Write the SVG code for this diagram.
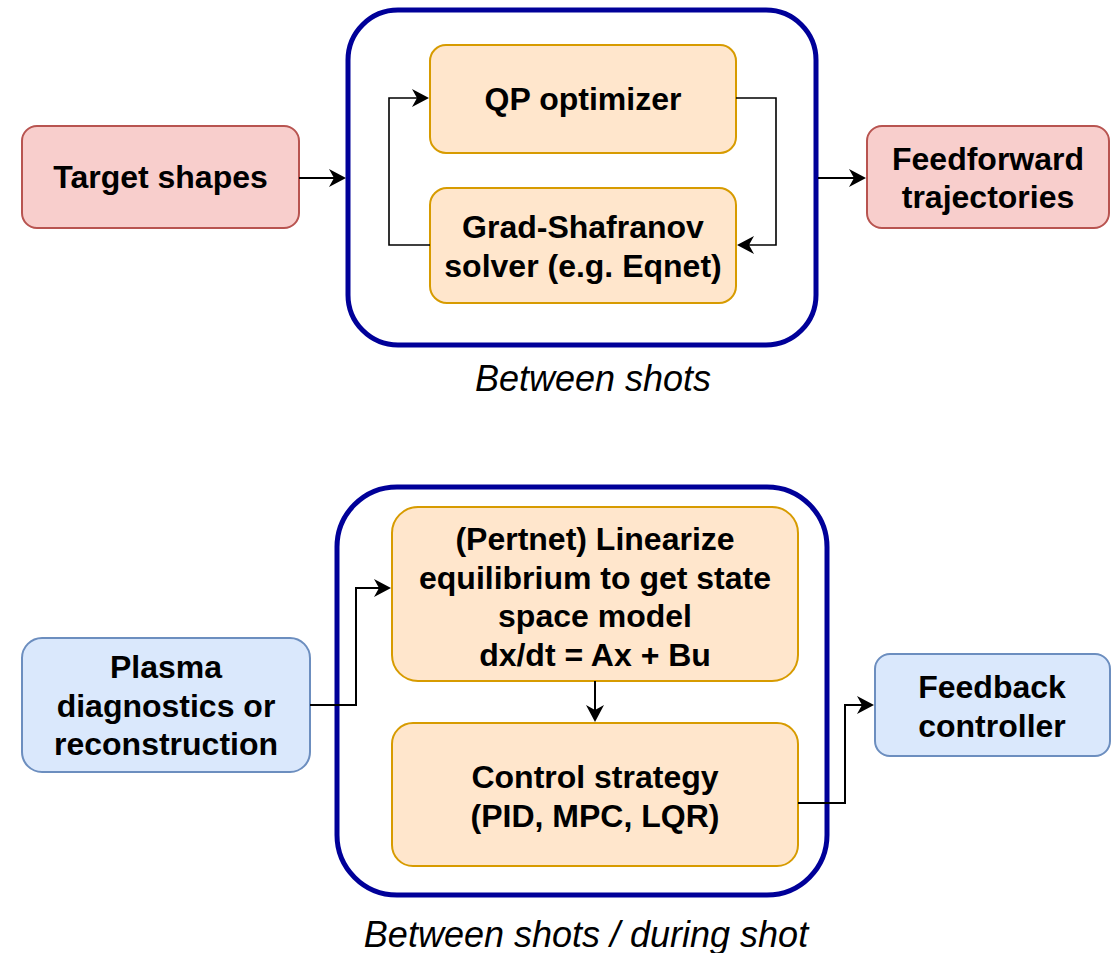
<svg xmlns="http://www.w3.org/2000/svg" width="1112" height="953" viewBox="0 0 1112 953">
  <defs>
    <style>
      .lbl { font-family: "Liberation Sans", Arial, sans-serif; font-size: 32px; font-weight: bold; fill: #000; text-anchor: middle; }
      .cap { font-family: "Liberation Sans", Arial, sans-serif; font-size: 36px; font-style: italic; fill: #000; text-anchor: middle; }
      .red { fill: #f8cecc; stroke: #b85450; stroke-width: 2; }
      .org { fill: #ffe6cc; stroke: #d79b00; stroke-width: 2; }
      .blu { fill: #dae8fc; stroke: #6c8ebf; stroke-width: 2; }
      .frame { fill: #fff; stroke: #000099; stroke-width: 5; }
      .wire { fill: none; stroke: #000; stroke-width: 2; marker-end: url(#arrow); }
      .wire.thin { stroke-width: 1.6; }
    </style>
    <marker id="arrow" markerUnits="userSpaceOnUse" markerWidth="17" markerHeight="18" viewBox="0 0 17 18" refX="5" refY="9" orient="auto">
      <path d="M0,0 L17,9 L0,18 L5,9 Z" fill="#000"/>
    </marker>
  </defs>

  <!-- upper loop: between shots -->
  <g id="frame-between">
    <rect class="frame" x="348" y="10" width="468" height="335" rx="50" ry="50"/>
    <text class="cap" x="593" y="391">Between shots</text>
  </g>
  <g id="target-shapes">
    <rect class="red" x="22" y="126" width="277" height="102" rx="15" ry="15"/>
    <text class="lbl" x="160.5" y="188">Target shapes</text>
  </g>
  <g id="qp-optimizer">
    <rect class="org" x="430" y="45" width="306" height="108" rx="16" ry="16"/>
    <text class="lbl" x="583" y="110">QP optimizer</text>
  </g>
  <g id="gs-solver">
    <rect class="org" x="430" y="188" width="306" height="115" rx="17" ry="17"/>
    <text class="lbl" x="583" y="238">Grad-Shafranov</text>
    <text class="lbl" x="583" y="277">solver (e.g. Eqnet)</text>
  </g>
  <g id="feedforward">
    <rect class="red" x="867" y="126" width="242" height="102" rx="15" ry="15"/>
    <text class="lbl" x="988" y="170">Feedforward</text>
    <text class="lbl" x="988" y="208">trajectories</text>
  </g>

  <!-- lower loop: between shots / during shot -->
  <g id="frame-during">
    <rect class="frame" x="337" y="487" width="490" height="408" rx="60" ry="60"/>
    <text class="cap" x="586" y="947">Between shots / during shot</text>
  </g>
  <g id="plasma-diagnostics">
    <rect class="blu" x="22" y="638" width="288" height="134" rx="20" ry="20"/>
    <text class="lbl" x="166" y="678">Plasma</text>
    <text class="lbl" x="166" y="716.5">diagnostics or</text>
    <text class="lbl" x="166" y="755">reconstruction</text>
  </g>
  <g id="pertnet">
    <rect class="org" x="392" y="507" width="406" height="174" rx="26" ry="26"/>
    <text class="lbl" x="595" y="550">(Pertnet) Linearize</text>
    <text class="lbl" x="595" y="588.5">equilibrium to get state</text>
    <text class="lbl" x="595" y="627">space model</text>
    <text class="lbl" x="595" y="665.5">dx/dt = Ax + Bu</text>
  </g>
  <g id="control-strategy">
    <rect class="org" x="392" y="723" width="406" height="143" rx="21" ry="21"/>
    <text class="lbl" x="595" y="788">Control strategy</text>
    <text class="lbl" x="595" y="827">(PID, MPC, LQR)</text>
  </g>
  <g id="feedback-controller">
    <rect class="blu" x="875" y="654" width="235" height="102" rx="15" ry="15"/>
    <text class="lbl" x="992" y="698">Feedback</text>
    <text class="lbl" x="992" y="737">controller</text>
  </g>

  <g id="connectors">
    <path class="wire" d="M299,178 H334"/>
    <path class="wire" d="M818,178 H854"/>
    <path class="wire thin" d="M430,245 H389 V98 H417"/>
    <path class="wire thin" d="M736,98 H776 V245 H749"/>
    <path class="wire" d="M310,705 H356 V588 H379"/>
    <path class="wire" d="M595,681 V710"/>
    <path class="wire" d="M798,803 H845 V705 H862"/>
  </g>
</svg>
